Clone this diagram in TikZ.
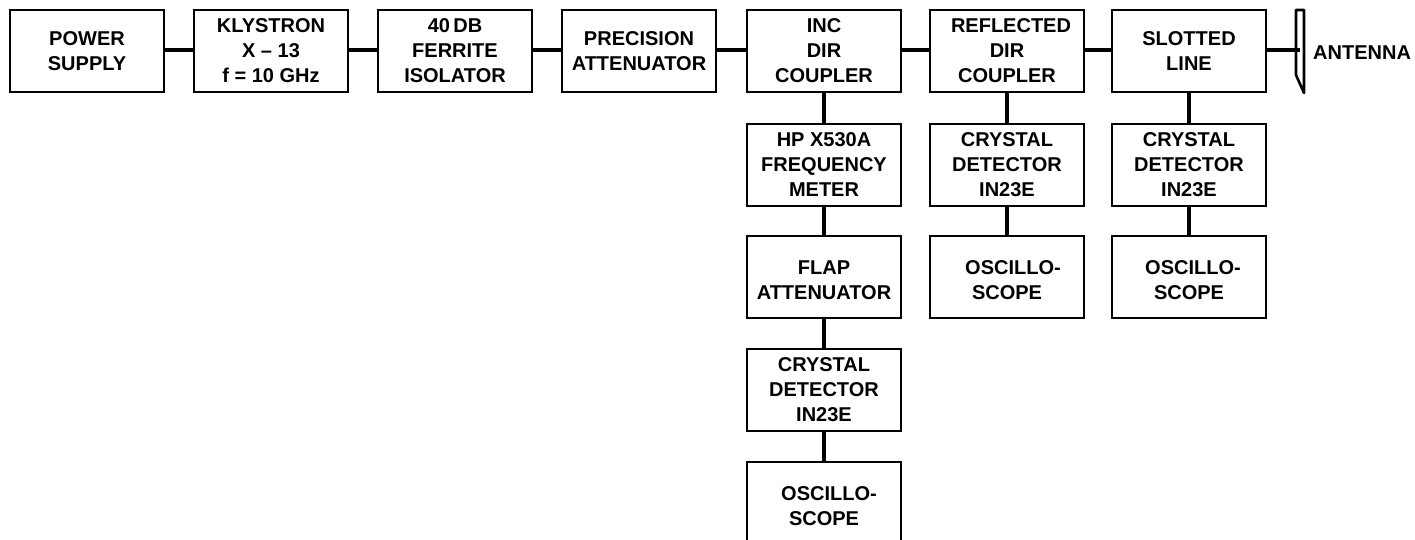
\documentclass[tikz,border=0pt]{standalone}
\usepackage{fontspec}
\setmainfont{Liberation Sans}
\newcommand{\lowerby}{\rule{0pt}{20pt}}
\tikzset{
  x=1pt,y=-1pt,
  blockbox/.style={draw=black,line width=2.6pt,minimum width=154pt,minimum height=82pt,inner sep=0pt,align=center,font=\fontsize{20}{25}\selectfont\bfseries},
  link/.style={draw=black,line width=4pt}
}
\begin{document}
\begin{tikzpicture}
\useasboundingbox (0,0) rectangle (1415,540);
\coordinate (rail) at (0,50);
\node[blockbox] (ps) at (87,51) {POWER\\SUPPLY};
\node[blockbox] (kl) at (271,51) {KLYSTRON\\X – 13\\f = 10 GHz};
\node[blockbox] (fi) at (455,51) {40\,DB\\FERRITE\\ISOLATOR};
\node[blockbox] (pa) at (639,51) {PRECISION\\ATTENUATOR};
\node[blockbox] (inc) at (824,51) {INC\\DIR\\COUPLER};
\node[blockbox] (ref) at (1007,51) {\hspace*{8pt}REFLECTED\\DIR\\COUPLER};
\node[blockbox] (sl) at (1189,51) {SLOTTED\\LINE};
\node[blockbox] (hp) at (824,165) {HP X530A\\FREQUENCY\\METER};
\node[blockbox] (fl) at (824,277) {\lowerby FLAP\\ATTENUATOR};
\node[blockbox] (c1) at (824,390) {CRYSTAL\\DETECTOR\\IN23E};
\node[blockbox] (o1) at (824,503) {\hspace*{10pt}\lowerby OSCILLO-\\SCOPE};
\node[blockbox] (c2) at (1007,165) {CRYSTAL\\DETECTOR\\IN23E};
\node[blockbox] (o2) at (1007,277) {\hspace*{12pt}\lowerby OSCILLO-\\SCOPE};
\node[blockbox] (c3) at (1189,165) {CRYSTAL\\DETECTOR\\IN23E};
\node[blockbox] (o3) at (1189,277) {\hspace*{8pt}\lowerby OSCILLO-\\SCOPE};
\node[font=\fontsize{20}{24}\selectfont\bfseries,inner sep=0pt,anchor=west] (an) at (1313,53) {ANTENNA};
\coordinate (ant) at (1300,50);
\foreach \a/\b in {ps/kl,kl/fi,fi/pa,pa/inc,inc/ref,ref/sl}
  \draw[link] (\a.east |- rail) -- (\b.west |- rail);
\foreach \a/\b in {inc/hp,hp/fl,fl/c1,c1/o1,ref/c2,c2/o2,sl/c3,c3/o3}
  \draw[link] (\a) -- (\b);
\draw[link] (sl.east |- rail) -- (ant);
\draw[draw=black,line width=2.6pt,line join=round] (1296,10) -- (1304,10) -- (1304,93) -- (1296,75) -- cycle;
\end{tikzpicture}
\end{document}
